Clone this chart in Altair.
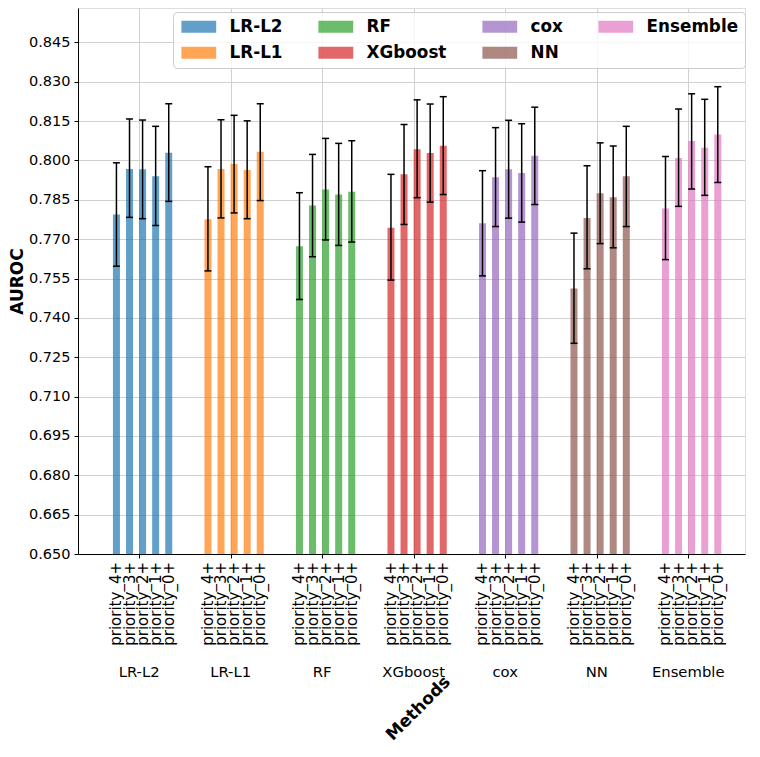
import altair as alt
import pandas as pd

methods = ["LR-L2", "LR-L1", "RF", "XGboost", "cox", "NN", "Ensemble"]
priorities = ["priority_4+", "priority_3+", "priority_2+", "priority_1+", "priority_0+"]
colors = ["#1f77b4", "#ff7f0e", "#2ca02c", "#d62728", "#9467bd", "#8c564b", "#e377c2"]

auc_lr_l2 = [0.7794, 0.7967, 0.7966, 0.7940, 0.8029]
auc_lr_l1 = [0.7776, 0.7967, 0.7986, 0.7964, 0.8033]
auc_rf = [0.7673, 0.7828, 0.7889, 0.7870, 0.7881]
auc_xgb = [0.7743, 0.7947, 0.8043, 0.8028, 0.8056]
auc_cox = [0.7761, 0.7936, 0.7966, 0.7952, 0.8018]
auc_nn = [0.7512, 0.7781, 0.7875, 0.7860, 0.7940]
auc_ens = [0.7817, 0.8009, 0.8074, 0.8048, 0.8099]

lo_lr_l2 = [0.7597, 0.7783, 0.7778, 0.7752, 0.7844]
lo_lr_l1 = [0.7579, 0.7781, 0.7800, 0.7778, 0.7847]
lo_rf = [0.7470, 0.7633, 0.7697, 0.7676, 0.7689]
lo_xgb = [0.7544, 0.7756, 0.7858, 0.7841, 0.7870]
lo_cox = [0.7560, 0.7748, 0.7780, 0.7765, 0.7832]
lo_nn = [0.7303, 0.7587, 0.7683, 0.7667, 0.7748]
lo_ens = [0.7622, 0.7825, 0.7891, 0.7867, 0.7916]

hi_lr_l2 = [0.7991, 0.8158, 0.8154, 0.8130, 0.8216]
hi_lr_l1 = [0.7976, 0.8155, 0.8172, 0.8151, 0.8216]
hi_rf = [0.7877, 0.8023, 0.8084, 0.8065, 0.8075]
hi_xgb = [0.7947, 0.8137, 0.8231, 0.8215, 0.8243]
hi_cox = [0.7961, 0.8125, 0.8153, 0.8140, 0.8203]
hi_nn = [0.7723, 0.7980, 0.8067, 0.8055, 0.8130]
hi_ens = [0.8015, 0.8196, 0.8254, 0.8233, 0.8281]

y_ticks = [0.650, 0.665, 0.680, 0.695, 0.710, 0.725, 0.740, 0.755, 0.770,
           0.785, 0.800, 0.815, 0.830, 0.845]

aucs = [auc_lr_l2, auc_lr_l1, auc_rf, auc_xgb, auc_cox, auc_nn, auc_ens]
los = [lo_lr_l2, lo_lr_l1, lo_rf, lo_xgb, lo_cox, lo_nn, lo_ens]
his = [hi_lr_l2, hi_lr_l1, hi_rf, hi_xgb, hi_cox, hi_nn, hi_ens]

BAR_STEP = 1 / 7
BAR_W_UNITS = 0.075

rows = []
for gi, m in enumerate(methods):
    for k, p in enumerate(priorities):
        rows.append({
            "method": m, "priority": p,
            "auc": aucs[gi][k], "lo": los[gi][k], "hi": his[gi][k],
            "pos": gi + (k - 2) * BAR_STEP + BAR_W_UNITS / 2,
        })
df = pd.DataFrame(rows)
groups = pd.DataFrame({"method": methods, "pos": list(range(len(methods)))})

YMIN, YMAX = 0.65, 0.8581
XMIN, XMAX = -0.6136, 6.566
W, H = 667, 546
PAD_L, PAD_T, PAD_R, PAD_B = 70, 0, 6, 190
FONT = "DejaVu Sans"

xscale = alt.Scale(domain=[XMIN, XMAX], nice=False, zero=False)
yscale = alt.Scale(domain=[YMIN, YMAX], nice=False, zero=False)

x_enc = alt.X("pos:Q", scale=xscale,
              axis=alt.Axis(values=list(range(len(methods))), labels=False,
                            grid=True, gridColor="#d0d0d0", gridWidth=1,
                            tickSize=4, tickColor="black", domainColor="black",
                            title="Methods", titleFont=FONT, titleFontSize=17,
                            titleFontWeight="bold", titleAngle=315,
                            titleAlign="center", titleBaseline="middle",
                            titleX=340, titleY=154, titleColor="black"))
y_enc = alt.Y("auc:Q", scale=yscale,
              axis=alt.Axis(values=y_ticks, format=".3f", grid=True,
                            gridColor="#d0d0d0", gridWidth=1, tickSize=4,
                            tickColor="black", domainColor="black",
                            labelFont=FONT, labelFontSize=14.5, labelColor="black",
                            labelPadding=4, title="AUROC", titleFont=FONT,
                            titleFontSize=17, titleFontWeight="bold",
                            titleAngle=270, titleAlign="center",
                            titleBaseline="middle", titleX=-61, titleY=H / 2,
                            titleColor="black"))

bars = alt.Chart(df).mark_bar(size=7, opacity=0.7).encode(
    x=x_enc,
    y=y_enc,
    y2=alt.datum(YMIN),
    color=alt.Color("method:N",
                    scale=alt.Scale(domain=methods, range=colors),
                    legend=alt.Legend(
                        orient="none", legendX=95, legendY=4, columns=4,
                        title=None, symbolType="M-2.9,-1H2.9V1H-2.9Z",
                        symbolSize=144, symbolOffset=11.4, symbolOpacity=0.7,
                        symbolStrokeWidth=0,
                        labelFont=FONT, labelFontSize=16.8, labelFontWeight="bold",
                        labelColor="black", labelOffset=22.4, columnPadding=33,
                        rowPadding=8.3, padding=6, strokeColor="#cccccc",
                        fillColor="rgba(255,255,255,0.8)", cornerRadius=4)),
)

rules = alt.Chart(df).mark_rule(color="black", strokeWidth=1.5).encode(
    x="pos:Q", y="lo:Q", y2="hi:Q")
cap_top = alt.Chart(df).mark_tick(color="black", orient="horizontal", size=7,
                                  thickness=1.5, opacity=1).encode(
    x="pos:Q", y="hi:Q")
cap_bot = alt.Chart(df).mark_tick(color="black", orient="horizontal", size=7,
                                  thickness=1.5, opacity=1).encode(
    x="pos:Q", y="lo:Q")

bar_labels = alt.Chart(df).mark_text(angle=270, align="right", baseline="middle",
                                     font=FONT, fontSize=15, color="black").encode(
    x="pos:Q", y=alt.value(H + 8), text="priority:N")

group_labels = alt.Chart(groups).mark_text(align="center", baseline="middle",
                                           font=FONT, fontSize=14.8,
                                           color="black").encode(
    x="pos:Q", y=alt.value(H + 119), text="method:N")

chart = alt.layer(bars, rules, cap_top, cap_bot, bar_labels, group_labels).properties(
    width=W, height=H,
    autosize=alt.AutoSizeParams(type="none"),
    padding={"left": PAD_L, "top": PAD_T, "right": PAD_R, "bottom": PAD_B},
).configure_view(stroke="black", strokeWidth=1).configure(background="white")

chart.save("out.html", embed_options={"renderer": "svg", "actions": False})
